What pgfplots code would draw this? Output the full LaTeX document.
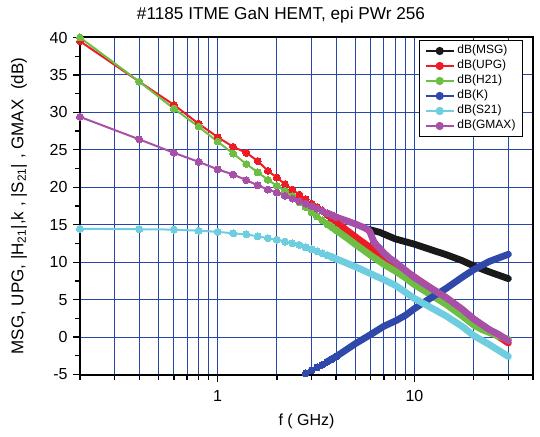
\documentclass[border=0pt]{standalone}
\usepackage{fontspec}
\setmainfont{Liberation Sans}
\usepackage{pgfplots}
\pgfplotsset{compat=1.18}
\definecolor{gridblue}{RGB}{40,70,170}
\definecolor{cmsg}{RGB}{25,25,25}
\definecolor{cupg}{RGB}{237,28,36}
\definecolor{ch21}{RGB}{110,190,68}
\definecolor{ck}{RGB}{48,72,170}
\definecolor{cs21}{RGB}{110,205,222}
\definecolor{cgmax}{RGB}{168,80,168}
\begin{document}
\begin{tikzpicture}
\begin{axis}[
  name=ax,
  scale only axis, width=453pt, height=337pt,
  xmode=log, xmin=0.2, xmax=40, ymin=-5, ymax=40,
  xtick={1,10}, xticklabels={1,10},
  minor xtick={0.2,0.3,0.4,0.5,0.6,0.7,0.8,0.9,2,3,4,5,6,7,8,9,20,30,40},
  ytick={-5,0,5,10,15,20,25,30,35,40},
  yticklabels={-5,0,5,10,15,20,25,30,35,40},
  minor ytick={-2.5,2.5,7.5,12.5,17.5,22.5,27.5,32.5,37.5},
  tick pos=left, tick align=outside,
  major tick length=7pt, minor tick length=5pt,
  every tick/.style={black, line width=1.3pt},
  every minor tick/.style={black, line width=1.3pt},
  grid style={gridblue, line width=1pt},
  xmajorgrids, xminorgrids, ymajorgrids,
  axis line style={line width=2pt, black},
  tick label style={font=\fontsize{16}{16}\selectfont},
  xticklabel style={anchor=base, yshift=-20pt},
  yticklabel style={anchor=east, xshift=-2pt},
  title={\#1185 ITME GaN HEMT, epi PWr 256},
  title style={font=\fontsize{17.2}{17.2}\selectfont, at={(axis description cs:0.4437,1)}, anchor=base, yshift=12pt},
  xlabel={f ( GHz)},
  xlabel style={font=\fontsize{16}{16}\selectfont, at={(axis description cs:0.5,0)}, anchor=base, yshift=-50.5pt},
  ylabel={MSG, UPG, |H\textsubscript{21}|,k , |S\textsubscript{21}| , GMAX\ \ (dB)},
  ylabel style={font=\fontsize{17}{17}\selectfont, at={(axis description cs:-0.1347,0.5)}, anchor=center},
  legend style={at={(axis description cs:0.7483,0.9926)}, anchor=north west, draw=black, line width=1pt, fill=white,
    font=\fontsize{12}{12}\selectfont, inner xsep=5pt, inner ysep=3pt, row sep=0pt,
    nodes={inner ysep=1.5pt, inner xsep=2.5pt, text height=9pt, text depth=3pt}},
  legend cell align=left,
  legend image code/.code={\draw[#1, mark repeat=2, mark phase=2] plot coordinates {(0pt,0pt) (14pt,0pt) (28pt,0pt)};},
  mk/.style={line width=2pt, mark=*, mark size=3.5pt, mark options={solid, line width=0pt}},
  thk/.style={line width=6.8pt, line join=round, line cap=round},
]
\addlegendimage{cmsg, line width=2.5pt, mark=*, mark size=2.8pt}
\addlegendentry{dB(MSG)}
\addlegendimage{cupg, line width=2.5pt, mark=*, mark size=2.8pt}
\addlegendentry{dB(UPG)}
\addlegendimage{ch21, line width=2.5pt, mark=*, mark size=2.8pt}
\addlegendentry{dB(H21)}
\addlegendimage{ck, line width=2.5pt, mark=*, mark size=2.8pt}
\addlegendentry{dB(K)}
\addlegendimage{cs21, line width=2.5pt, mark=*, mark size=2.8pt}
\addlegendentry{dB(S21)}
\addlegendimage{cgmax, line width=2.5pt, mark=*, mark size=2.8pt}
\addlegendentry{dB(GMAX)}

% MSG
\addplot[cmsg, thk, forget plot] coordinates {(5.8,14.4) (6.64,14.0) (8,13.1) (10,12.4) (12,11.7) (14.5,11.0) (17.5,10.2) (20,9.5) (24,8.7) (30,7.8)};
% UPG
\addplot[cupg, thk, forget plot] coordinates {(3.6,16.35) (4.0,15.4) (4.5,14.3) (5.0,13.4) (5.5,12.6) (6.0,11.9) (7.0,10.7) (8.0,9.6) (9,8.8) (10,8.0) (12,6.6) (14.5,5.25) (17.5,3.6) (20,2.4) (22,1.6) (24,0.85) (27,0.0) (30,-0.8)};
\addplot[cupg, mk, forget plot] coordinates {(0.2,39.5) (0.4,34.1) (0.6,31.0) (0.8,28.5) (1.0,26.7) (1.2,25.4) (1.4,24.6) (1.6,23.5) (1.8,22.2) (2.0,21.3) (2.2,20.4) (2.4,19.7) (2.6,19.0) (2.8,18.4) (3.0,17.8) (3.2,17.35) (3.4,16.9) (3.6,16.35) (3.8,15.85) (4.0,15.4)};
% H21
\addplot[ch21, thk, forget plot] coordinates {(3.6,15.1) (4.0,14.25) (4.5,13.3) (5,12.4) (6,10.9) (7,9.7) (8,8.8) (9,7.9) (10,7.0) (12,5.7) (14.5,4.35) (17.5,2.8) (20,1.6) (22,1.0) (24,0.6) (27,0.1) (30,-0.3)};
\addplot[ch21, mk, forget plot] coordinates {(0.2,40.0) (0.4,34.1) (0.6,30.5) (0.8,28.1) (1.0,26.1) (1.2,24.5) (1.4,23.1) (1.6,22.0) (1.8,21.0) (2.0,20.2) (2.2,19.5) (2.4,18.8) (2.6,18.0) (2.8,17.35) (3.0,16.65) (3.2,16.1) (3.4,15.6) (3.6,15.1) (3.8,14.7) (4.0,14.25)};
% K
\addplot[ck, thk, forget plot] coordinates {(3.6,-3.3) (4.0,-2.6) (4.5,-1.7) (5.0,-0.9) (6,0.35) (7,1.45) (8,2.15) (9,2.9) (10,3.8) (11.9,5.1) (14.5,6.5) (17.5,8.0) (20,9.0) (24,10.1) (30,11.05)};
\addplot[ck, mk, forget plot] coordinates {(2.6,-5.4) (2.8,-4.85) (3.0,-4.45) (3.2,-4.05) (3.4,-3.7) (3.6,-3.3) (3.8,-2.95) (4.0,-2.6)};
% S21
\addplot[cs21, thk, forget plot] coordinates {(3.6,10.95) (4.0,10.45) (5,9.4) (6,8.45) (7,7.65) (8,6.9) (10,5.15) (12,4.0) (14.5,2.8) (17.5,1.4) (20,0.2) (24,-1.0) (30,-2.6)};
\addplot[cs21, mk, forget plot] coordinates {(0.2,14.45) (0.4,14.4) (0.6,14.35) (0.8,14.2) (1.0,14.05) (1.2,13.85) (1.4,13.7) (1.6,13.45) (1.8,13.2) (2.0,13.0) (2.2,12.75) (2.4,12.5) (2.6,12.3) (2.8,12.0) (3.0,11.7) (3.2,11.45) (3.4,11.2) (3.6,10.95) (3.8,10.7) (4.0,10.45)};
% GMAX
\addplot[cgmax, thk, forget plot] coordinates {(3.6,16.55) (4.0,16.0) (4.5,15.55) (5.0,15.1) (5.5,14.65) (5.8,14.35) (5.95,14.0) (6.05,13.5) (6.2,12.8) (6.4,12.3) (6.64,11.9) (7,11.2) (7.5,10.5) (8,10.0) (9,8.9) (10,7.95) (12,6.6) (14.5,5.25) (17.5,3.7) (20,2.4) (24,1.0) (27,0.3) (30,-0.5)};
\addplot[cgmax, mk, forget plot] coordinates {(0.2,29.4) (0.4,26.4) (0.6,24.6) (0.8,23.4) (1.0,22.4) (1.2,21.7) (1.4,20.95) (1.6,20.25) (1.8,19.7) (2.0,19.3) (2.2,18.85) (2.4,18.5) (2.6,18.15) (2.8,17.8) (3.0,17.5) (3.2,17.15) (3.4,16.85) (3.6,16.55) (3.8,16.3) (4.0,16.0)};
\end{axis}
\pgfresetboundingbox
\path[use as bounding box] (ax.south west) ++(-80pt,-61.5pt) rectangle ++(540pt,436pt);
\end{tikzpicture}
\end{document}
